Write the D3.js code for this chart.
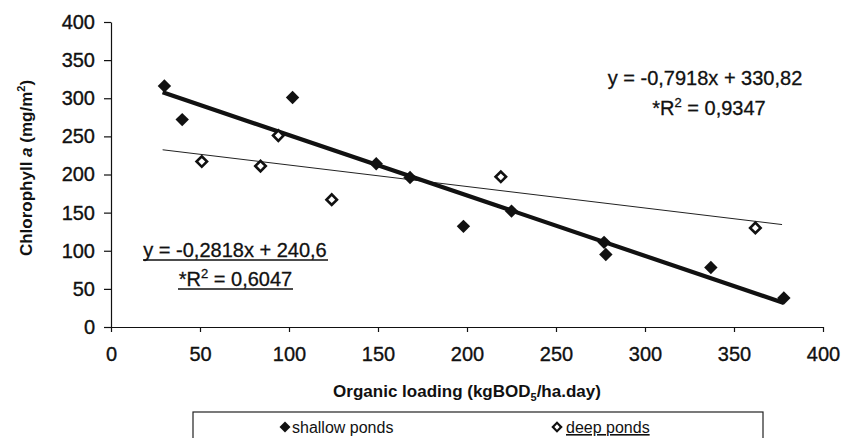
<!DOCTYPE html>
<html><head><meta charset="utf-8">
<script src="https://cdn.jsdelivr.net/npm/d3@7"></script>
<style>
body{margin:0;background:#fff;}
svg{display:block;font-family:"Liberation Sans",Arial,sans-serif;}
</style></head>
<body><svg id="c" width="841" height="438"></svg>
<script>
const shallowX = [30, 40, 102, 149, 168, 198, 225, 277, 278, 337, 378];
const shallowY = [316, 272, 301, 214, 196, 132, 152, 111, 95, 78, 38];
const deepX = [51, 84, 94, 124, 219, 362];
const deepY = [217, 211, 251, 167, 197, 130];
const shallowFit = {slope: -0.7918, intercept: 330.82, x0: 29, x1: 378};
const deepFit = {slope: -0.2818, intercept: 240.6, x0: 29, x1: 377};
const xTicks = [0, 50, 100, 150, 200, 250, 300, 350, 400];
const yTicks = [0, 50, 100, 150, 200, 250, 300, 350, 400];

const svg = d3.select("#c");
const x = d3.scaleLinear().domain([0, 400]).range([111, 823]);
const y = d3.scaleLinear().domain([0, 400]).range([327, 22]);

const xAxis = svg.append("g").attr("transform", `translate(0,${y(0)})`)
  .call(d3.axisBottom(x).tickValues(xTicks).tickSize(5).tickSizeOuter(0).tickPadding(15));
const yAxis = svg.append("g").attr("transform", `translate(${x(0)},0)`)
  .call(d3.axisLeft(y).tickValues(yTicks).tickSize(7).tickSizeOuter(0).tickPadding(9));
[xAxis, yAxis].forEach(g => {
  g.selectAll("path,line").attr("stroke", "#111").attr("stroke-width", 1.2);
  g.selectAll("text").attr("font-size", 20).attr("fill", "#111")
    .attr("stroke", "#111").attr("stroke-width", 0.35)
    .attr("font-family", "Liberation Sans, Arial, sans-serif");
});

// trend lines
const line = d3.line().x(d => x(d[0])).y(d => y(d[1]));
function fitPts(f){ return [[f.x0, f.slope*f.x0+f.intercept],[f.x1, f.slope*f.x1+f.intercept]]; }
svg.append("path").attr("d", line(fitPts(deepFit))).attr("stroke", "#222").attr("stroke-width", 1).attr("fill","none");
svg.append("path").attr("d", line(fitPts(shallowFit))).attr("stroke", "#111").attr("stroke-width", 4.2).attr("fill","none");

// shallow
svg.append("g").selectAll("path").data(shallowX.map((v,i)=>[v, shallowY[i]])).join("path")
  .attr("d", d3.symbol().type(d3.symbolSquare).size(90)())
  .attr("transform", d => `translate(${x(d[0])},${y(d[1])}) rotate(45)`)
  .attr("fill", "#111");
// deep
svg.append("g").selectAll("path").data(deepX.map((v,i)=>[v, deepY[i]])).join("path")
  .attr("d", d3.symbol().type(d3.symbolSquare).size(55)())
  .attr("transform", d => `translate(${x(d[0])},${y(d[1])}) rotate(45)`)
  .attr("fill", "#fff").attr("stroke", "#111").attr("stroke-width", 2.6);

// equations
const eq = svg.append("g").attr("font-size", 20).attr("fill", "#111").attr("stroke", "#111").attr("stroke-width", 0.3);
eq.append("text").attr("x", 705).attr("y", 85).attr("text-anchor", "middle").text("y = -0,7918x + 330,82");
const t2 = eq.append("text").attr("x", 709).attr("y", 115).attr("text-anchor", "middle");
t2.append("tspan").text("*R");
t2.append("tspan").attr("dy", -8).attr("font-size", 13).text("2");
t2.append("tspan").attr("dy", 8).text(" = 0,9347");

eq.append("text").attr("x", 235).attr("y", 257).attr("text-anchor", "middle").text("y = -0,2818x + 240,6");
const t4 = eq.append("text").attr("x", 235.5).attr("y", 286).attr("text-anchor", "middle");
t4.append("tspan").text("*R");
t4.append("tspan").attr("dy", -8).attr("font-size", 13).text("2");
t4.append("tspan").attr("dy", 8).text(" = 0,6047");
svg.append("line").attr("x1", 143).attr("x2", 328).attr("y1", 260).attr("y2", 260).attr("stroke", "#111").attr("stroke-width", 1.4);
svg.append("line").attr("x1", 178).attr("x2", 293).attr("y1", 289).attr("y2", 289).attr("stroke", "#111").attr("stroke-width", 1.4);

// axis titles
svg.append("text").attr("x", 467).attr("y", 397).attr("text-anchor", "middle")
  .attr("font-size", 17).attr("font-weight", "bold").attr("fill", "#111")
  .call(t => {
    t.append("tspan").text("Organic loading (kgBOD");
    t.append("tspan").attr("font-size", 11).attr("dy", 4).text("5");
    t.append("tspan").attr("dy", -4).text("/ha.day)");
  });
svg.append("text").attr("transform", "translate(32,168) rotate(-90)").attr("text-anchor", "middle")
  .attr("font-size", 17).attr("font-weight", "bold").attr("fill", "#111")
  .call(t => {
    t.append("tspan").text("Chlorophyll ");
    t.append("tspan").attr("font-style", "italic").text("a");
    t.append("tspan").text(" (mg/m");
    t.append("tspan").attr("font-size", 11).attr("dy", -7).text("2");
    t.append("tspan").attr("dy", 7).text(")");
  });

// legend
const lg = svg.append("g");
lg.append("rect").attr("x", 193).attr("y", 412).attr("width", 570).attr("height", 40)
  .attr("fill", "#fff").attr("stroke", "#222").attr("stroke-width", 1.2);
lg.append("path").attr("d", d3.symbol().type(d3.symbolSquare).size(60)())
  .attr("transform", "translate(285,427) rotate(45)").attr("fill", "#111");
lg.append("text").attr("x", 292).attr("y", 433).attr("font-size", 16).attr("fill", "#111").text("shallow ponds");
lg.append("path").attr("d", d3.symbol().type(d3.symbolSquare).size(35)())
  .attr("transform", "translate(557,427) rotate(45)").attr("fill", "#fff").attr("stroke", "#111").attr("stroke-width", 2.2);
lg.append("text").attr("x", 566).attr("y", 433).attr("font-size", 16).attr("fill", "#111")
  .attr("text-decoration", "underline").text("deep ponds");
</script></body></html>
